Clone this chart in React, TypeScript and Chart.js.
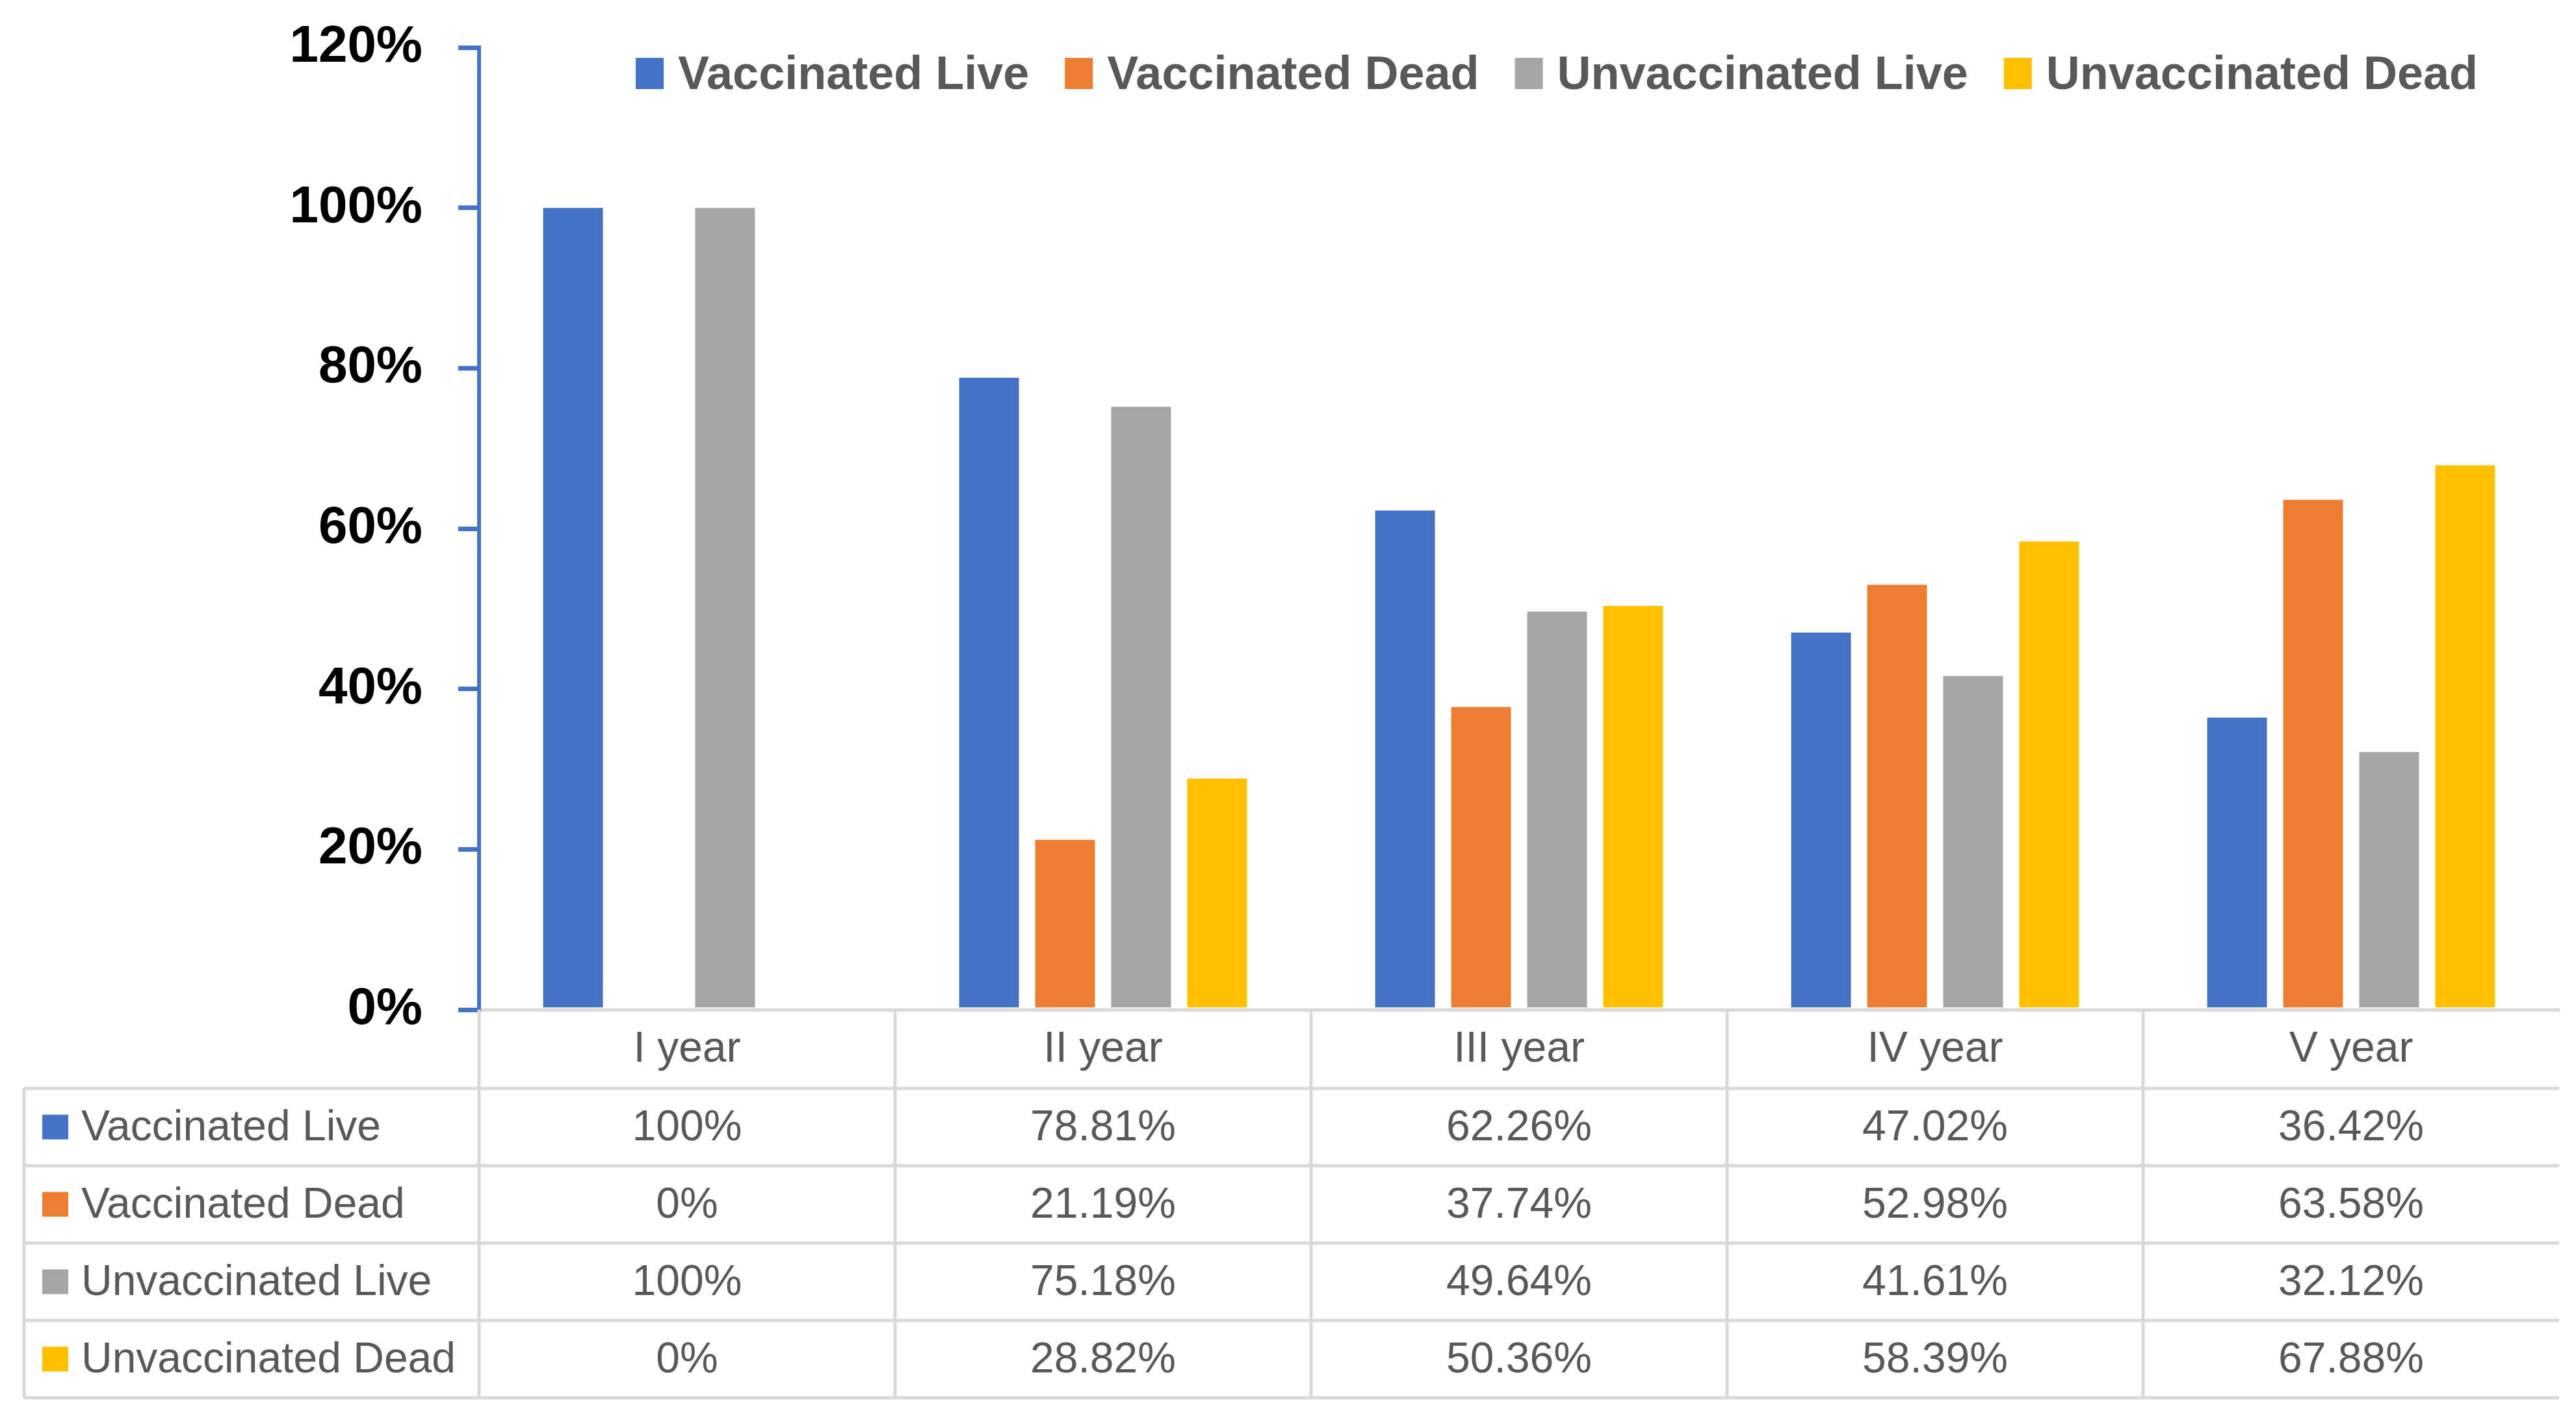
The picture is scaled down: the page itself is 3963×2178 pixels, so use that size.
import React, { useEffect, useRef } from 'react';
import { Chart, registerables } from 'chart.js';

Chart.register(...registerables);

const categories = ['I year', 'II year', 'III year', 'IV year', 'V year'];
const seriesNames = ['Vaccinated Live', 'Vaccinated Dead', 'Unvaccinated Live', 'Unvaccinated Dead'];
const vaccinatedLive = [100, 78.81, 62.26, 47.02, 36.42];
const vaccinatedDead = [0, 21.19, 37.74, 52.98, 63.58];
const unvaccinatedLive = [100, 75.18, 49.64, 41.61, 32.12];
const unvaccinatedDead = [0, 28.82, 50.36, 58.39, 67.88];
const seriesColors = ['#4472C4', '#ED7D31', '#A5A5A5', '#FFC000'];
const yMin = 0;
const yMax = 120;
const yStep = 20;

const FONT = "'Liberation Sans', Arial, sans-serif";
const TEXT_GRAY = '#595959';
const LINE_GRAY = '#D9D9D9';

const fmt = (v: number) => (Number.isInteger(v) ? `${v}%` : `${v.toFixed(2)}%`);

const legendPlugin = {
  id: 'topLegend',
  afterDraw(chart: any) {
    const ctx = chart.ctx;
    ctx.save();
    ctx.font = `bold 72px ${FONT}`;
    ctx.textAlign = 'left';
    ctx.textBaseline = 'alphabetic';
    let x = 978;
    chart.data.datasets.forEach((ds: any) => {
      ctx.fillStyle = ds.backgroundColor;
      ctx.fillRect(x, 89, 43, 48);
      ctx.fillStyle = TEXT_GRAY;
      ctx.fillText(ds.label, x + 65, 137);
      x += 65 + ctx.measureText(ds.label).width + 55;
    });
    ctx.restore();
  },
};

const tablePlugin = {
  id: 'dataTable',
  afterDraw(chart: any) {
    const ctx = chart.ctx;
    const xs = chart.scales.x;
    const area = chart.chartArea;
    const top = area.bottom;
    const headerH = 121;
    const rowH = 119;
    const tableLeft = 37;
    const right = area.right;
    const datasets = chart.data.datasets;
    const n = datasets.length;
    const bottom = top + headerH + n * rowH;
    const half = (xs.getPixelForValue(1) - xs.getPixelForValue(0)) / 2;

    ctx.save();
    ctx.strokeStyle = LINE_GRAY;
    ctx.lineWidth = 5;
    const line = (x1: number, y1: number, x2: number, y2: number) => {
      ctx.beginPath();
      ctx.moveTo(x1, y1);
      ctx.lineTo(x2, y2);
      ctx.stroke();
    };
    for (let r = 0; r <= n; r++) {
      const y = top + headerH + r * rowH;
      line(tableLeft, y, right, y);
    }
    line(tableLeft, top + headerH, tableLeft, bottom);
    for (let i = 0; i < chart.data.labels.length; i++) {
      const x = xs.getPixelForValue(i) - half;
      line(x, top, x, bottom);
    }

    ctx.font = `66px ${FONT}`;
    ctx.textBaseline = 'alphabetic';
    datasets.forEach((ds: any, r: number) => {
      const rowTop = top + headerH + r * rowH;
      const base = rowTop + 80;
      ctx.fillStyle = ds.backgroundColor;
      ctx.fillRect(65, rowTop + rowH / 2 - 19, 40, 38);
      ctx.fillStyle = TEXT_GRAY;
      ctx.textAlign = 'left';
      ctx.fillText(ds.label, 125, base);
      ctx.textAlign = 'center';
      ds.data.forEach((v: number, i: number) => {
        ctx.fillText(fmt(v), xs.getPixelForValue(i), base);
      });
    });
    ctx.restore();
  },
};

export default function App() {
  const ref = useRef<HTMLCanvasElement>(null);

  useEffect(() => {
    if (!ref.current) return;
    const seriesData = [vaccinatedLive, vaccinatedDead, unvaccinatedLive, unvaccinatedDead];
    const chart = new Chart(ref.current, {
      type: 'bar',
      data: {
        labels: categories,
        datasets: seriesNames.map((name, k) => ({
          label: name,
          data: seriesData[k],
          backgroundColor: seriesColors[k],
          borderWidth: 0,
          barPercentage: 0.786,
          categoryPercentage: 0.731,
        })),
      },
      options: {
        responsive: true,
        maintainAspectRatio: false,
        animation: false,
        layout: { padding: { left: 0, right: 26, top: 73, bottom: 0 } },
        plugins: {
          legend: { display: false },
          tooltip: { enabled: false },
          title: { display: false },
        },
        scales: {
          x: {
            type: 'category',
            grid: { display: false },
            border: { display: true, color: LINE_GRAY, width: 5 },
            ticks: {
              color: TEXT_GRAY,
              font: { family: FONT, size: 66 },
              padding: 14,
              maxRotation: 0,
            },
            afterFit: (scale: any) => {
              scale.height = 625;
            },
          },
          y: {
            min: yMin,
            max: yMax,
            grid: {
              drawOnChartArea: false,
              drawTicks: true,
              tickLength: 32,
              tickColor: '#4472C4',
              tickWidth: 7,
              lineWidth: 7,
              color: '#4472C4',
            },
            border: { display: true, color: '#4472C4', width: 6 },
            ticks: {
              stepSize: yStep,
              color: '#000000',
              font: { family: FONT, size: 80, weight: 'bold' },
              padding: 55,
              callback: (v: any) => `${v}%`,
            },
            afterFit: (scale: any) => {
              scale.width = 737;
              scale.paddingTop = 0;
              scale.paddingBottom = 0;
            },
          },
        },
      },
      plugins: [legendPlugin, tablePlugin],
    });
    return () => chart.destroy();
  }, []);

  return (
    <div style={{ position: 'fixed', left: 0, top: 0, width: '3963px', height: '2178px', background: '#ffffff' }}>
      <canvas ref={ref} />
    </div>
  );
}
